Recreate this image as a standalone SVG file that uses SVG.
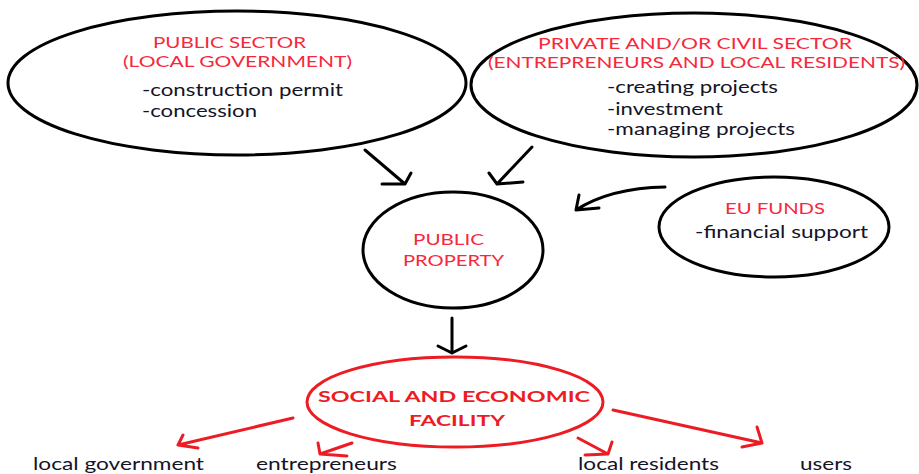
<svg xmlns="http://www.w3.org/2000/svg" width="919" height="474" viewBox="0 0 919 474">
<style>
.node{fill:none;stroke:#000;stroke-width:3}
.rnode{fill:none;stroke:#ed1c24;stroke-width:3}
.red{font-family:Lato,"Liberation Sans",sans-serif;font-size:16px;fill:#f5283c}
.redb{font-family:Lato,"Liberation Sans",sans-serif;font-size:16px;font-weight:bold;fill:#ed1c24}
.blk{font-family:Lato,"Liberation Sans",sans-serif;font-size:18px;fill:#141428}
.ca{fill:none;stroke:#000;stroke-width:3;stroke-linecap:round;stroke-linejoin:round}
.cr{fill:none;stroke:#ed1c24;stroke-width:3;stroke-linecap:round;stroke-linejoin:round}
</style>
<rect width="919" height="474" fill="#fff"/>
<g id="public-sector">
<ellipse class="node" cx="237" cy="83" rx="229" ry="72"/>
<text class="red" x="153" y="48" textLength="153" lengthAdjust="spacingAndGlyphs">PUBLIC SECTOR</text>
<text class="red" x="123" y="67" textLength="229" lengthAdjust="spacingAndGlyphs">(LOCAL GOVERNMENT)</text>
<text class="blk" x="142" y="96" textLength="201" lengthAdjust="spacingAndGlyphs">-construction permit</text>
<text class="blk" x="142" y="117" textLength="115" lengthAdjust="spacingAndGlyphs">-concession</text>
</g>
<g id="private-sector">
<ellipse class="node" cx="694" cy="85" rx="223" ry="72"/>
<text class="red" x="538" y="49" textLength="314" lengthAdjust="spacingAndGlyphs">PRIVATE AND/OR CIVIL SECTOR</text>
<text class="red" x="488" y="68" textLength="417" lengthAdjust="spacingAndGlyphs">(ENTREPRENEURS AND LOCAL RESIDENTS)</text>
<text class="blk" x="607" y="93" textLength="171" lengthAdjust="spacingAndGlyphs">-creating projects</text>
<text class="blk" x="607" y="115" textLength="116" lengthAdjust="spacingAndGlyphs">-investment</text>
<text class="blk" x="607" y="135" textLength="188" lengthAdjust="spacingAndGlyphs">-managing projects</text>
</g>
<g id="public-property">
<ellipse class="node" cx="453" cy="250" rx="90" ry="58"/>
<text class="red" x="413" y="245" textLength="71" lengthAdjust="spacingAndGlyphs">PUBLIC</text>
<text class="red" x="403" y="266" textLength="101" lengthAdjust="spacingAndGlyphs">PROPERTY</text>
</g>
<g id="eu-funds">
<ellipse class="node" cx="774" cy="227" rx="115" ry="50"/>
<text class="red" x="725" y="214" textLength="100" lengthAdjust="spacingAndGlyphs">EU FUNDS</text>
<text class="blk" x="695" y="238" textLength="173" lengthAdjust="spacingAndGlyphs">-financial support</text>
</g>
<g id="social-economic-facility">
<ellipse class="rnode" cx="455" cy="402" rx="148" ry="45"/>
<text class="redb" x="318" y="402" textLength="272" lengthAdjust="spacingAndGlyphs">SOCIAL AND ECONOMIC</text>
<text class="redb" x="409" y="426" textLength="96" lengthAdjust="spacingAndGlyphs">FACILITY</text>
</g>
<g id="local-government"><text class="blk" x="33" y="469.5" textLength="171" lengthAdjust="spacingAndGlyphs">local government</text></g>
<g id="entrepreneurs"><text class="blk" x="256" y="469.5" textLength="141" lengthAdjust="spacingAndGlyphs">entrepreneurs</text></g>
<g id="local-residents"><text class="blk" x="578" y="469.5" textLength="141" lengthAdjust="spacingAndGlyphs">local residents</text></g>
<g id="users"><text class="blk" x="800" y="469.5" textLength="52" lengthAdjust="spacingAndGlyphs">users</text></g>
<g id="connectors">
<path class="ca" d="M365,150 L405,184 M382,184 L405,184 L411,173"/>
<path class="ca" d="M532,147 L497,184 M523,182 L497,184 L489,173"/>
<path class="ca" d="M665,187 Q610,188 576,210 M599,208 L576,210 L579,195"/>
<path class="ca" d="M452,318 L452,353 M438,346 L452,353 L466,346"/>
<path class="cr" d="M293,418 L178,445 M183,435 L178,445 L198,448"/>
<path class="cr" d="M352,443 L320,454 M318,443 L320,454 L347,456"/>
<path class="cr" d="M578,438 L608,454 M612,442 L608,454 L585,455"/>
<path class="cr" d="M613,410 L762,443 M757,427 L762,443 L742,447"/>
</g>
</svg>
